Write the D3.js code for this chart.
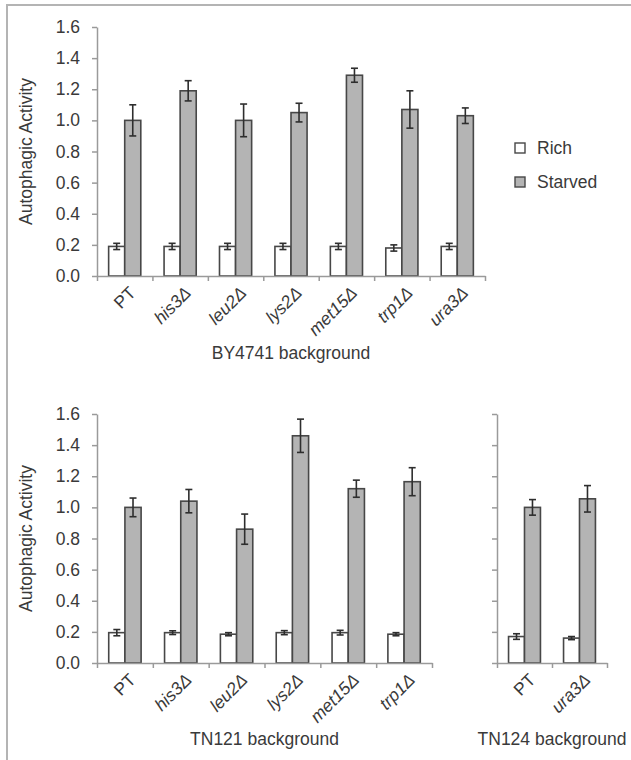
<!DOCTYPE html>
<html>
<head>
<meta charset="utf-8">
<script src="https://cdn.jsdelivr.net/npm/d3@7"></script>
<style>
  html, body { margin: 0; padding: 0; background: #fff; }
  svg { display: block; font-family: "Liberation Sans", Arial, sans-serif; }
</style>
</head>
<body>
<svg id="chart" width="631" height="760"></svg>
<script>
// ---- Data ----
const yTicks = [0, 0.2, 0.4, 0.6, 0.8, 1.0, 1.2, 1.4, 1.6];
const seriesNames = ["Rich", "Starved"];

const catsBY = ["PT", "his3Δ", "leu2Δ", "lys2Δ", "met15Δ", "trp1Δ", "ura3Δ"];
const richBY = [0.19, 0.19, 0.19, 0.19, 0.19, 0.18, 0.19];
const richErrBY = [0.02, 0.02, 0.02, 0.02, 0.02, 0.02, 0.02];
const starvedBY = [1.00, 1.19, 1.00, 1.05, 1.29, 1.07, 1.03];
const starvedErrBY = [0.10, 0.065, 0.105, 0.06, 0.045, 0.12, 0.05];

const cats121 = ["PT", "his3Δ", "leu2Δ", "lys2Δ", "met15Δ", "trp1Δ"];
const rich121 = [0.195, 0.195, 0.185, 0.195, 0.195, 0.185];
const richErr121 = [0.02, 0.012, 0.01, 0.013, 0.015, 0.01];
const starved121 = [1.00, 1.04, 0.86, 1.46, 1.12, 1.165];
const starvedErr121 = [0.06, 0.075, 0.097, 0.107, 0.055, 0.09];

const cats124 = ["PT", "ura3Δ"];
const rich124 = [0.17, 0.16];
const richErr124 = [0.018, 0.01];
const starved124 = [1.00, 1.055];
const starvedErr124 = [0.05, 0.085];

// ---- Drawing ----
const svg = d3.select("#chart");
const axisColor = "#9a9a9a";
const textColor = "#3a3a3a";
const barStroke = "#474747";
const starvedFill = "#b4b4b4";

// outer frame
svg.append("rect").attr("x", 7).attr("y", 5).attr("width", 640).attr("height", 780)
  .attr("fill", "none").attr("stroke", "#b4b4b4").attr("stroke-width", 2);

function panel(o) {
  const n = o.cats.length;
  const y = d3.scaleLinear().domain([0, 1.6]).range([o.yBottom, o.yTop]);
  const xIdx = d3.scaleLinear().domain([0, n]).range([o.x0, o.x1]);
  const xb = d3.scaleBand().domain(o.cats).range([o.x0, o.x1]).paddingInner(0.42).paddingOuter(0.21);
  const xs = d3.scaleBand().domain(seriesNames).range([0, xb.bandwidth()]);
  const g = svg.append("g");

  // y axis
  const ya = g.append("g").attr("transform", `translate(${o.x0},0)`)
    .call(d3.axisLeft(y).tickValues(yTicks).tickSize(5).tickSizeOuter(0)
      .tickFormat(o.showYLabels ? d3.format(".1f") : ""));
  ya.select(".domain").attr("stroke", axisColor).attr("stroke-width", 1.5);
  ya.selectAll(".tick line").attr("stroke", axisColor).attr("stroke-width", 1.5);
  ya.selectAll(".tick text").attr("fill", textColor).attr("font-size", 17.5).attr("x", -17)
    .attr("font-family", "Liberation Sans, Arial, sans-serif");

  // bars
  const data = o.cats.map((c, i) => ({
    c, vals: [
      { s: "Rich", v: o.rich[i], e: o.richErr[i] },
      { s: "Starved", v: o.starved[i], e: o.starvedErr[i] }
    ]
  }));
  const grp = g.selectAll(".grp").data(data).enter().append("g")
    .attr("transform", d => `translate(${xb(d.c)},0)`);
  grp.selectAll("rect").data(d => d.vals).enter().append("rect")
    .attr("x", d => xs(d.s)).attr("width", xs.bandwidth())
    .attr("y", d => y(d.v)).attr("height", d => y(0) - y(d.v))
    .attr("fill", d => d.s === "Rich" ? "#ffffff" : starvedFill)
    .attr("stroke", barStroke).attr("stroke-width", 1.6);
  const eb = grp.selectAll(".eb").data(d => d.vals).enter().append("g")
    .attr("stroke", "#2e2e2e").attr("stroke-width", 1.6);
  eb.append("line").attr("x1", d => xs(d.s) + xs.bandwidth() / 2).attr("x2", d => xs(d.s) + xs.bandwidth() / 2)
    .attr("y1", d => y(d.v + d.e)).attr("y2", d => y(d.v - d.e));
  eb.append("line").attr("x1", d => xs(d.s) + xs.bandwidth() / 2 - 3.5).attr("x2", d => xs(d.s) + xs.bandwidth() / 2 + 3.5)
    .attr("y1", d => y(d.v + d.e)).attr("y2", d => y(d.v + d.e));
  eb.append("line").attr("x1", d => xs(d.s) + xs.bandwidth() / 2 - 3.5).attr("x2", d => xs(d.s) + xs.bandwidth() / 2 + 3.5)
    .attr("y1", d => y(d.v - d.e)).attr("y2", d => y(d.v - d.e));

  // x axis (ticks between categories)
  const xa = g.append("g").attr("transform", `translate(0,${o.yBottom})`)
    .call(d3.axisBottom(xIdx).tickValues(d3.range(0, n + 1)).tickSize(5).tickSizeOuter(0).tickFormat(""));
  xa.select(".domain").attr("stroke", axisColor).attr("stroke-width", 1.5);
  xa.selectAll(".tick line").attr("stroke", axisColor).attr("stroke-width", 1.5);

  // category labels
  g.selectAll(".xl").data(o.cats).enter().append("text")
    .attr("transform", d => `translate(${xb(d) + xb.bandwidth() / 2 + 12},${o.yBottom + 18}) rotate(-45)`)
    .attr("text-anchor", "end")
    .attr("font-size", 17.5).attr("fill", textColor)
    .attr("font-style", d => d === "PT" ? "normal" : "italic")
    .text(d => d);

  // y label
  if (o.yLabel) {
    g.append("text")
      .attr("transform", `translate(26,${(o.yTop + o.yBottom) / 2}) rotate(-90)`)
      .attr("text-anchor", "middle").attr("dy", "0.35em")
      .attr("font-size", 17.5).attr("fill", textColor).text(o.yLabel);
  }
  // title
  g.append("text").attr("x", (o.x0 + o.x1) / 2).attr("y", o.titleY)
    .attr("text-anchor", "middle").attr("font-size", 17.5).attr("fill", textColor).text(o.title);
}

panel({ cats: catsBY, rich: richBY, richErr: richErrBY, starved: starvedBY, starvedErr: starvedErrBY,
  x0: 97, x1: 485, yTop: 27, yBottom: 276, showYLabels: true, yLabel: "Autophagic Activity",
  title: "BY4741 background", titleY: 359 });
panel({ cats: cats121, rich: rich121, richErr: richErr121, starved: starved121, starvedErr: starvedErr121,
  x0: 97, x1: 432, yTop: 414, yBottom: 663, showYLabels: true, yLabel: "Autophagic Activity",
  title: "TN121 background", titleY: 745 });
panel({ cats: cats124, rich: rich124, richErr: richErr124, starved: starved124, starvedErr: starvedErr124,
  x0: 497, x1: 607, yTop: 414, yBottom: 663, showYLabels: false, yLabel: null,
  title: "TN124 background", titleY: 745 });

// legend
const leg = svg.append("g");
const legY = [143, 177];
seriesNames.forEach((s, i) => {
  leg.append("rect").attr("x", 515).attr("y", legY[i]).attr("width", 10).attr("height", 10)
    .attr("fill", s === "Rich" ? "#ffffff" : starvedFill).attr("stroke", barStroke).attr("stroke-width", 1.4);
  leg.append("text").attr("x", 537).attr("y", legY[i] + 11).attr("font-size", 17.5).attr("fill", textColor).text(s);
});
</script>
</body>
</html>
